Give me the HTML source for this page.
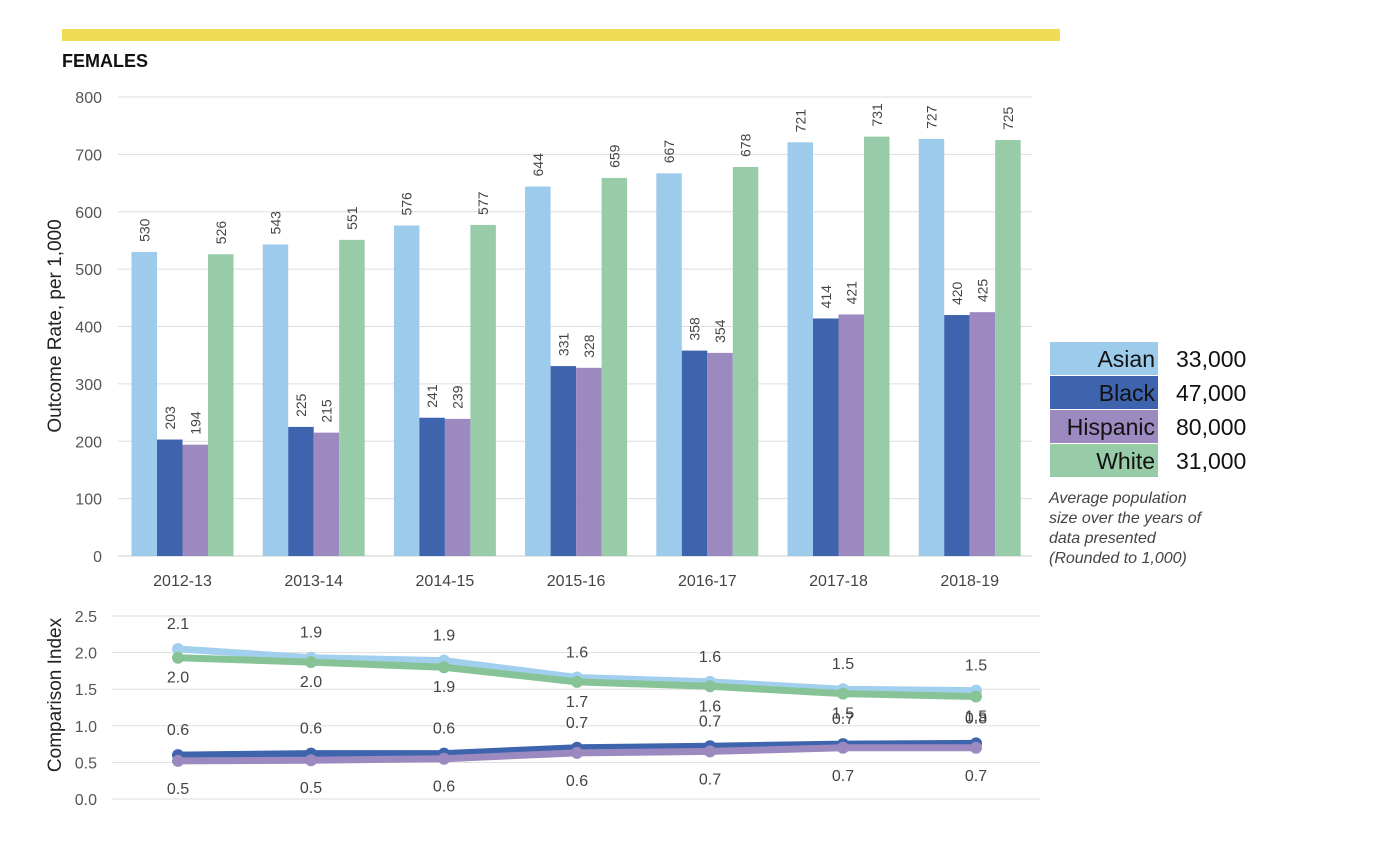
<!DOCTYPE html>
<html><head><meta charset="utf-8">
<style>
html,body{margin:0;padding:0;background:#fff;}
body{width:1380px;height:843px;overflow:hidden;font-family:"Liberation Sans",Arial,sans-serif;}
svg text{font-family:"Liberation Sans",Arial,sans-serif;}
</style></head>
<body>
<svg id="chart" width="1380" height="843" xmlns="http://www.w3.org/2000/svg">
<rect x="62" y="29" width="998" height="12" fill="#f0dc55"/>
<text x="62" y="67" font-size="18" font-weight="bold" fill="#111">FEMALES</text>
<text transform="translate(61,326) rotate(-90)" text-anchor="middle" font-size="19" fill="#222">Outcome Rate, per 1,000</text>
<text transform="translate(61,695) rotate(-90)" text-anchor="middle" font-size="19" fill="#222">Comparison Index</text>
<g id="topChart"></g>
<g id="bottomChart"></g>
<g id="legend"></g>
<text font-size="16" font-style="italic" fill="#444">
<tspan x="1049" y="503">Average population</tspan>
<tspan x="1049" y="523">size over the years of</tspan>
<tspan x="1049" y="543">data presented</tspan>
<tspan x="1049" y="563">(Rounded to 1,000)</tspan>
</text>
</svg>
<script>
const categories=["2012-13","2013-14","2014-15","2015-16","2016-17","2017-18","2018-19"];
const seriesNames=["Asian","Black","Hispanic","White"];
const asianRate=[530,543,576,644,667,721,727];
const blackRate=[203,225,241,331,358,414,420];
const hispanicRate=[194,215,239,328,354,421,425];
const whiteRate=[526,551,577,659,678,731,725];
const yTicks=[0,100,200,300,400,500,600,700,800];
const idxTicks=[0,0.5,1,1.5,2,2.5];
const asianIdx=[2.05,1.93,1.89,1.66,1.6,1.5,1.48];
const whiteIdx=[1.93,1.87,1.8,1.6,1.54,1.44,1.4];
const blackIdx=[0.6,0.62,0.62,0.7,0.72,0.75,0.76];
const hispanicIdx=[0.52,0.53,0.55,0.63,0.65,0.7,0.7];
const asianIdxLbl=["2.1","1.9","1.9","1.6","1.6","1.5","1.5"];
const whiteIdxLbl=["2.0","2.0","1.9","1.7","1.6","1.5","1.5"];
const blackIdxLbl=["0.6","0.6","0.6","0.7","0.7","0.7","0.8"];
const hispanicIdxLbl=["0.5","0.5","0.6","0.6","0.7","0.7","0.7"];
const populations=["33,000","47,000","80,000","31,000"];

const NS="http://www.w3.org/2000/svg";
function mk(tag,attrs,parent,txt){const e=document.createElementNS(NS,tag);for(const k in attrs)e.setAttribute(k,attrs[k]);if(txt!==undefined)e.textContent=txt;parent.appendChild(e);return e;}
const barColors=["#9dcbeb","#3e64ad","#9b89bf","#98cba8"];
const rates=[asianRate,blackRate,hispanicRate,whiteRate];

const topG=document.getElementById('topChart');
const yScale=v=>556-v*(459/800);
const gx=i=>182.5+i*131.2;
const bw=25.5;
yTicks.forEach(t=>{
  const l=mk('line',{x1:118,x2:1032,y1:yScale(t),y2:yScale(t),stroke:t===0?'#cfcfcf':'#dedede','stroke-width':1},topG);
  
  
  const tx=mk('text',{x:102,y:yScale(t)+6,'text-anchor':'end','font-size':16,fill:'#555'},topG,String(t));
  
  
});
categories.forEach((c,i)=>{
  const tx=mk('text',{x:gx(i),y:586,'text-anchor':'middle','font-size':16,fill:'#444'},topG,c);
  
  
  rates.forEach((s,k)=>{
    const x0=gx(i)-2*bw+k*bw;
    const r=mk('rect',{x:x0,y:yScale(s[i]),width:bw,height:556-yScale(s[i]),fill:barColors[k]},topG);
    
    
    const lx=x0+bw/2+5, ly=yScale(s[i])-10;
    const t=mk('text',{transform:`translate(${lx},${ly}) rotate(-90)`,'font-size':14,fill:'#444'},topG,String(s[i]));
    
    
  });
});

const botG=document.getElementById('bottomChart');
const yi=v=>799-v*(183/2.5);
const px=i=>178+i*133;
idxTicks.forEach(t=>{
  const l=mk('line',{x1:112,x2:1040,y1:yi(t),y2:yi(t),stroke:'#dedede','stroke-width':1},botG);
  
  
  const tx=mk('text',{x:97,y:yi(t)+6,'text-anchor':'end','font-size':16,fill:'#555'},botG,t.toFixed(1));
  
  
});
const lines=[
 {d:asianIdx,c:'#a3cfee',lbl:asianIdxLbl,off:-20,name:'asian'},
 {d:whiteIdx,c:'#86c497',lbl:whiteIdxLbl,off:25,name:'white'},
 {d:blackIdx,c:'#3e64ad',lbl:blackIdxLbl,off:-20,name:'black'},
 {d:hispanicIdx,c:'#9b89bf',lbl:hispanicIdxLbl,off:33,name:'hispanic'}];
lines.forEach(L=>{
  const pts=L.d.map((v,i)=>px(i)+','+yi(v)).join(' ');
  const pl=mk('polyline',{points:pts,fill:'none',stroke:L.c,'stroke-width':7,'stroke-linejoin':'round'},botG);
  
  
  L.d.forEach((v,i)=>{
    const c=mk('circle',{cx:px(i),cy:yi(v),r:6,fill:L.c},botG);
    
    
    const t=mk('text',{x:px(i),y:yi(v)+L.off,'text-anchor':'middle','font-size':16,fill:'#444'},botG,L.lbl[i]);
    
    
  });
});

const lg=document.getElementById('legend');
seriesNames.forEach((n,k)=>{
  const yy=342+k*34;
  const r=mk('rect',{x:1050,y:yy,width:108,height:33,fill:barColors[k]},lg);
  
  
  const t=mk('text',{x:1155,y:yy+25,'text-anchor':'end','font-size':23,fill:'#111'},lg,n);
  
  
  const p=mk('text',{x:1176,y:yy+25,'font-size':23,fill:'#111'},lg,populations[k]);
  
  
});
</script>
</body></html>
